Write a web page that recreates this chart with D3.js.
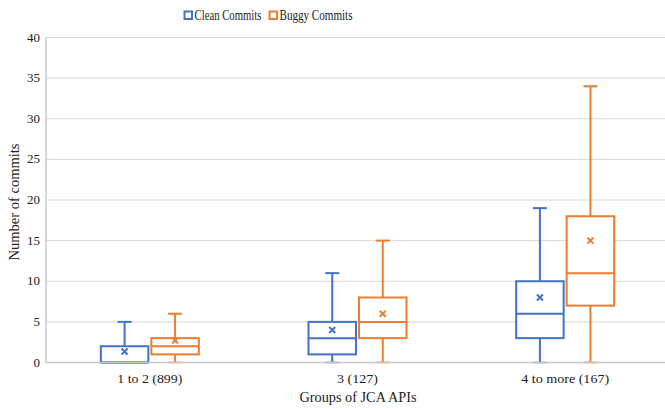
<!DOCTYPE html>
<html><head><meta charset="utf-8">
<script src="https://cdn.jsdelivr.net/npm/d3@7"></script>
<style>body{margin:0;background:#fff}svg{display:block}text{font-family:"Liberation Serif","Times New Roman",serif;fill:#222}</style>
</head><body><svg id="c" width="665" height="409"></svg>
<script>
const categories = ["1 to 2 (899)", "3 (127)", "4 to more (167)"];
const categoryLabelWidths = [65, 41, 88];
const seriesNames = ["Clean Commits", "Buggy Commits"];
const seriesColors = ["#4472C4", "#ED7D31"];
// per category: [min, q1, median, q3, max, mean]
const cleanStats = [[0,0,0,2,5,1.35],[0,1,3,5,11,4],[0,3,6,10,19,8]];
const buggyStats = [[0,1,2,3,6,2.7],[0,3,5,8,15,6],[0,7,11,18,34,15]];
const yTicks = [0,5,10,15,20,25,30,35,40];

const svg = d3.select("#c");
const plotLeft = 46, plotTop = 37.5, plotBottom = 362.5, plotRight = 669;
const x = d3.scaleBand().domain(categories).range([plotLeft, plotRight]);
const inner = d3.scaleBand().domain(seriesNames).range([-49, 49]).paddingInner(0.06);
const y = d3.scaleLinear().domain([0, 40]).range([plotBottom, plotTop]);

// gridlines
svg.append("g").selectAll("line").data(yTicks.filter(d=>d>0)).join("line")
  .attr("x1", plotLeft).attr("x2", plotRight)
  .attr("y1", d=>y(d)).attr("y2", d=>y(d))
  .attr("stroke", "#d9d9d9").attr("stroke-width", 1);

// y tick labels
svg.append("g").selectAll("text").data(yTicks).join("text")
  .attr("x", 40).attr("y", d=>y(d)+4).attr("text-anchor","end")
  .attr("font-size", 13).text(d=>d);

const allStats = [cleanStats, buggyStats];
const g = svg.append("g");
seriesNames.forEach((s, si) => {
  const col = seriesColors[si];
  categories.forEach((c, ci) => {
    const [mn,q1,md,q3,mx,mean] = allStats[si][ci];
    const cx = x(c) + x.bandwidth()/2 + inner(s) + inner.bandwidth()/2;
    const bw = inner.bandwidth();
    const cap = 7;
    const gg = g.append("g").attr("stroke", col).attr("stroke-width", 2).attr("fill","none");
    gg.append("line").attr("x1",cx).attr("x2",cx).attr("y1",y(q3)).attr("y2",y(mx));
    gg.append("line").attr("x1",cx).attr("x2",cx).attr("y1",y(q1)).attr("y2",y(mn));
    gg.append("line").attr("x1",cx-cap).attr("x2",cx+cap).attr("y1",y(mx)).attr("y2",y(mx));
    gg.append("line").attr("x1",cx-cap).attr("x2",cx+cap).attr("y1",y(mn)).attr("y2",y(mn)).attr("stroke-opacity",0.55);
    gg.append("rect").attr("x",cx-bw/2).attr("y",y(q3)).attr("width",bw).attr("height",y(q1)-y(q3)).attr("fill","#fff");
    gg.append("line").attr("x1",cx-bw/2).attr("x2",cx+bw/2).attr("y1",y(md)).attr("y2",y(md));
    const m = 3;
    gg.append("path").attr("d",`M${cx-m},${y(mean)-m}L${cx+m},${y(mean)+m}M${cx-m},${y(mean)+m}L${cx+m},${y(mean)-m}`);
  });
});

// axis lines
svg.append("line").attr("x1",plotLeft).attr("x2",plotLeft).attr("y1",plotTop).attr("y2",plotBottom).attr("stroke","#c8c8c8").attr("stroke-width",1.5);
svg.append("line").attr("x1",plotLeft).attr("x2",plotRight).attr("y1",plotBottom).attr("y2",plotBottom).attr("stroke","#c8c8c8").attr("stroke-width",1.5);

// category labels
svg.append("g").selectAll("text").data(categories).join("text")
  .attr("x", d=>x(d)+x.bandwidth()/2).attr("y", 383).attr("text-anchor","middle")
  .attr("font-size", 13).attr("textLength", (d,i)=>categoryLabelWidths[i]).attr("lengthAdjust","spacingAndGlyphs")
  .text(d=>d);

// axis titles
svg.append("text").attr("x", 358).attr("y", 402).attr("text-anchor","middle").attr("font-size",14)
  .attr("textLength",117).attr("lengthAdjust","spacingAndGlyphs").text("Groups of JCA APIs");
svg.append("text").attr("transform","translate(19,202) rotate(-90)").attr("text-anchor","middle").attr("font-size",14)
  .attr("textLength",117).attr("lengthAdjust","spacingAndGlyphs").text("Number of commits");

// legend
const legX = [184.5, 269.5];
const legW = [67, 73];
seriesNames.forEach((s, i) => {
  svg.append("rect").attr("x", legX[i]).attr("y", 11.5).attr("width", 7.5).attr("height", 7.5)
    .attr("fill","#fff").attr("stroke", seriesColors[i]).attr("stroke-width", 2);
  svg.append("text").attr("x", legX[i]+10).attr("y", 20).attr("font-size", 14.5)
    .attr("textLength", legW[i]).attr("lengthAdjust","spacingAndGlyphs").text(s);
});
</script></body></html>
